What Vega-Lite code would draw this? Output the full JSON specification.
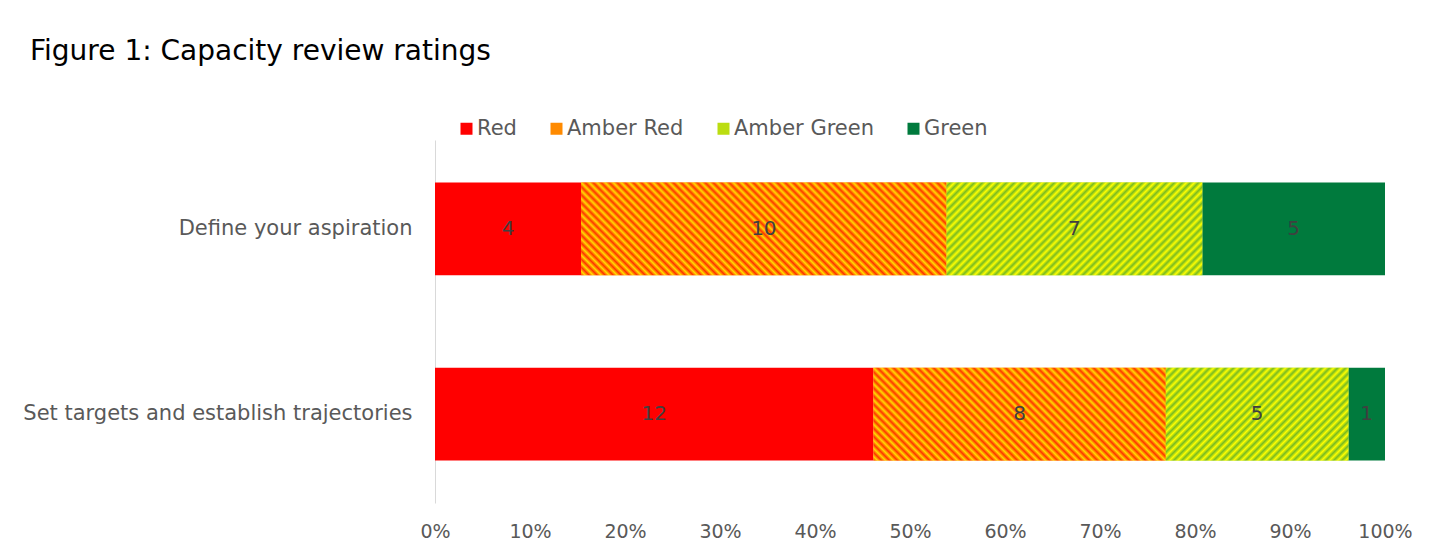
{
  "$schema": "https://vega.github.io/schema/vega-lite/v6.json",
  "width": 950,
  "height": 363,
  "autosize": {"type": "none"},
  "padding": {"left": 435, "top": 140, "right": 58, "bottom": 51},
  "background": "white",
  "title": {
    "text": "Figure 1: Capacity review ratings",
    "anchor": "start",
    "frame": "group",
    "dx": -405,
    "offset": 52,
    "fontSize": 28,
    "fontWeight": "normal",
    "color": "#000000",
    "font": "DejaVu Sans"
  },
  "config": {"view": {"stroke": null}, "font": "DejaVu Sans"},
  "data": {
    "values": [
      {"task": "Define your aspiration", "rating": "Red", "rank": 1, "count": 4},
      {"task": "Define your aspiration", "rating": "Amber Red", "rank": 2, "count": 10},
      {"task": "Define your aspiration", "rating": "Amber Green", "rank": 3, "count": 7},
      {"task": "Define your aspiration", "rating": "Green", "rank": 4, "count": 5},
      {"task": "Set targets and establish trajectories", "rating": "Red", "rank": 1, "count": 12},
      {"task": "Set targets and establish trajectories", "rating": "Amber Red", "rank": 2, "count": 8},
      {"task": "Set targets and establish trajectories", "rating": "Amber Green", "rank": 3, "count": 5},
      {"task": "Set targets and establish trajectories", "rating": "Green", "rank": 4, "count": 1}
    ]
  },
  "transform": [
    {"stack": "count", "groupby": ["task"], "sort": [{"field": "rank", "order": "ascending"}], "offset": "normalize", "as": ["x0", "x1"]}
  ],
  "encoding": {
    "y": {
      "field": "task",
      "type": "nominal",
      "sort": ["Define your aspiration", "Set targets and establish trajectories"],
      "scale": {"paddingInner": 0.5, "paddingOuter": 0.23},
      "axis": {"title": null, "ticks": false, "labelPadding": 23, "labelFontSize": 21, "labelColor": "#595959", "domainColor": "#D9D9D9", "labelLimit": 600}
    }
  },
  "layer": [
    {
      "mark": {"type": "bar"},
      "encoding": {
        "x": {
          "field": "x0",
          "type": "quantitative",
          "scale": {"domain": [0, 1]},
          "axis": {"title": null, "format": "%", "values": [0, 0.1, 0.2, 0.3, 0.4, 0.5, 0.6, 0.7, 0.8, 0.9, 1], "domain": false, "ticks": false, "grid": false, "labelFlush": false, "labelPadding": 19, "labelFontSize": 19, "labelColor": "#595959"}
        },
        "x2": {"field": "x1"},
        "color": {
          "field": "rating",
          "type": "nominal",
          "scale": {
            "domain": ["Red", "Amber Red", "Amber Green", "Green"],
            "range": ["#FF0000", "#FF8A00", "#BBDD11", "#007A3D"]
          },
          "legend": {
            "title": null, "orient": "none", "legendX": 21, "legendY": -22, "direction": "horizontal",
            "symbolType": "square", "symbolSize": 144, "symbolStrokeWidth": 0,
            "labelFontSize": 21, "labelColor": "#595959", "columnPadding": 29, "labelOffset": 0
          }
        }
      }
    },
    {
      "transform": [{"filter": "datum.task == 'Define your aspiration' && datum.rating == 'Amber Red'"}],
      "mark": {"type": "bar", "color": {"gradient": "linear", "x1": 0, "y1": 1, "x2": 1.2869, "y2": 0.676, "stops": [
        {"offset": 0, "color": "#f30"}, {"offset": 0.008, "color": "#fd0"}, {"offset": 0.016, "color": "#f30"}, {"offset": 0.024, "color": "#fd0"},
        {"offset": 0.032, "color": "#f30"}, {"offset": 0.04, "color": "#fd0"}, {"offset": 0.048, "color": "#f30"}, {"offset": 0.056, "color": "#fd0"},
        {"offset": 0.064, "color": "#f30"}, {"offset": 0.072, "color": "#fd0"}, {"offset": 0.08, "color": "#f30"}, {"offset": 0.088, "color": "#fd0"},
        {"offset": 0.096, "color": "#f30"}, {"offset": 0.104, "color": "#fd0"}, {"offset": 0.112, "color": "#f30"}, {"offset": 0.12, "color": "#fd0"},
        {"offset": 0.128, "color": "#f30"}, {"offset": 0.136, "color": "#fd0"}, {"offset": 0.144, "color": "#f30"}, {"offset": 0.152, "color": "#fd0"},
        {"offset": 0.16, "color": "#f30"}, {"offset": 0.168, "color": "#fd0"}, {"offset": 0.176, "color": "#f30"}, {"offset": 0.184, "color": "#fd0"},
        {"offset": 0.192, "color": "#f30"}, {"offset": 0.2, "color": "#fd0"}, {"offset": 0.208, "color": "#f30"}, {"offset": 0.216, "color": "#fd0"},
        {"offset": 0.224, "color": "#f30"}, {"offset": 0.232, "color": "#fd0"}, {"offset": 0.24, "color": "#f30"}, {"offset": 0.248, "color": "#fd0"},
        {"offset": 0.256, "color": "#f30"}, {"offset": 0.264, "color": "#fd0"}, {"offset": 0.272, "color": "#f30"}, {"offset": 0.28, "color": "#fd0"},
        {"offset": 0.288, "color": "#f30"}, {"offset": 0.296, "color": "#fd0"}, {"offset": 0.304, "color": "#f30"}, {"offset": 0.312, "color": "#fd0"},
        {"offset": 0.32, "color": "#f30"}, {"offset": 0.328, "color": "#fd0"}, {"offset": 0.336, "color": "#f30"}, {"offset": 0.344, "color": "#fd0"},
        {"offset": 0.352, "color": "#f30"}, {"offset": 0.36, "color": "#fd0"}, {"offset": 0.368, "color": "#f30"}, {"offset": 0.376, "color": "#fd0"},
        {"offset": 0.384, "color": "#f30"}, {"offset": 0.392, "color": "#fd0"}, {"offset": 0.4, "color": "#f30"}, {"offset": 0.408, "color": "#fd0"},
        {"offset": 0.416, "color": "#f30"}, {"offset": 0.424, "color": "#fd0"}, {"offset": 0.432, "color": "#f30"}, {"offset": 0.44, "color": "#fd0"},
        {"offset": 0.448, "color": "#f30"}, {"offset": 0.456, "color": "#fd0"}, {"offset": 0.464, "color": "#f30"}, {"offset": 0.472, "color": "#fd0"},
        {"offset": 0.48, "color": "#f30"}, {"offset": 0.488, "color": "#fd0"}, {"offset": 0.496, "color": "#f30"}, {"offset": 0.504, "color": "#fd0"},
        {"offset": 0.512, "color": "#f30"}, {"offset": 0.52, "color": "#fd0"}, {"offset": 0.528, "color": "#f30"}, {"offset": 0.536, "color": "#fd0"},
        {"offset": 0.544, "color": "#f30"}, {"offset": 0.552, "color": "#fd0"}, {"offset": 0.56, "color": "#f30"}, {"offset": 0.568, "color": "#fd0"},
        {"offset": 0.576, "color": "#f30"}, {"offset": 0.584, "color": "#fd0"}, {"offset": 0.592, "color": "#f30"}, {"offset": 0.6, "color": "#fd0"},
        {"offset": 0.608, "color": "#f30"}, {"offset": 0.616, "color": "#fd0"}, {"offset": 0.624, "color": "#f30"}, {"offset": 0.632, "color": "#fd0"},
        {"offset": 0.64, "color": "#f30"}, {"offset": 0.648, "color": "#fd0"}, {"offset": 0.656, "color": "#f30"}, {"offset": 0.664, "color": "#fd0"},
        {"offset": 0.672, "color": "#f30"}, {"offset": 0.68, "color": "#fd0"}, {"offset": 0.688, "color": "#f30"}, {"offset": 0.696, "color": "#fd0"},
        {"offset": 0.704, "color": "#f30"}, {"offset": 0.712, "color": "#fd0"}, {"offset": 0.72, "color": "#f30"}, {"offset": 0.728, "color": "#fd0"},
        {"offset": 0.736, "color": "#f30"}, {"offset": 0.744, "color": "#fd0"}, {"offset": 0.752, "color": "#f30"}, {"offset": 0.76, "color": "#fd0"},
        {"offset": 0.768, "color": "#f30"}, {"offset": 0.776, "color": "#fd0"}, {"offset": 0.784, "color": "#f30"}, {"offset": 0.792, "color": "#fd0"},
        {"offset": 0.8, "color": "#f30"}, {"offset": 0.808, "color": "#fd0"}, {"offset": 0.816, "color": "#f30"}, {"offset": 0.824, "color": "#fd0"},
        {"offset": 0.832, "color": "#f30"}, {"offset": 0.84, "color": "#fd0"}, {"offset": 0.848, "color": "#f30"}, {"offset": 0.856, "color": "#fd0"},
        {"offset": 0.864, "color": "#f30"}, {"offset": 0.872, "color": "#fd0"}, {"offset": 0.88, "color": "#f30"}, {"offset": 0.888, "color": "#fd0"},
        {"offset": 0.896, "color": "#f30"}, {"offset": 0.904, "color": "#fd0"}, {"offset": 0.912, "color": "#f30"}, {"offset": 0.92, "color": "#fd0"}
      ]}},
      "encoding": {"x": {"field": "x0", "type": "quantitative"}, "x2": {"field": "x1"}}
    },
    {
      "transform": [{"filter": "datum.task == 'Define your aspiration' && datum.rating == 'Amber Green'"}],
      "mark": {"type": "bar", "color": {"gradient": "linear", "x1": 0, "y1": 0, "x2": 1.7309, "y2": 0.6226, "stops": [
        {"offset": 0, "color": "#ff0"}, {"offset": 0.008, "color": "#7b2"}, {"offset": 0.016, "color": "#ff0"}, {"offset": 0.024, "color": "#7b2"},
        {"offset": 0.032, "color": "#ff0"}, {"offset": 0.04, "color": "#7b2"}, {"offset": 0.048, "color": "#ff0"}, {"offset": 0.056, "color": "#7b2"},
        {"offset": 0.064, "color": "#ff0"}, {"offset": 0.072, "color": "#7b2"}, {"offset": 0.08, "color": "#ff0"}, {"offset": 0.088, "color": "#7b2"},
        {"offset": 0.096, "color": "#ff0"}, {"offset": 0.104, "color": "#7b2"}, {"offset": 0.112, "color": "#ff0"}, {"offset": 0.12, "color": "#7b2"},
        {"offset": 0.128, "color": "#ff0"}, {"offset": 0.136, "color": "#7b2"}, {"offset": 0.144, "color": "#ff0"}, {"offset": 0.152, "color": "#7b2"},
        {"offset": 0.16, "color": "#ff0"}, {"offset": 0.168, "color": "#7b2"}, {"offset": 0.176, "color": "#ff0"}, {"offset": 0.184, "color": "#7b2"},
        {"offset": 0.192, "color": "#ff0"}, {"offset": 0.2, "color": "#7b2"}, {"offset": 0.208, "color": "#ff0"}, {"offset": 0.216, "color": "#7b2"},
        {"offset": 0.224, "color": "#ff0"}, {"offset": 0.232, "color": "#7b2"}, {"offset": 0.24, "color": "#ff0"}, {"offset": 0.248, "color": "#7b2"},
        {"offset": 0.256, "color": "#ff0"}, {"offset": 0.264, "color": "#7b2"}, {"offset": 0.272, "color": "#ff0"}, {"offset": 0.28, "color": "#7b2"},
        {"offset": 0.288, "color": "#ff0"}, {"offset": 0.296, "color": "#7b2"}, {"offset": 0.304, "color": "#ff0"}, {"offset": 0.312, "color": "#7b2"},
        {"offset": 0.32, "color": "#ff0"}, {"offset": 0.328, "color": "#7b2"}, {"offset": 0.336, "color": "#ff0"}, {"offset": 0.344, "color": "#7b2"},
        {"offset": 0.352, "color": "#ff0"}, {"offset": 0.36, "color": "#7b2"}, {"offset": 0.368, "color": "#ff0"}, {"offset": 0.376, "color": "#7b2"},
        {"offset": 0.384, "color": "#ff0"}, {"offset": 0.392, "color": "#7b2"}, {"offset": 0.4, "color": "#ff0"}, {"offset": 0.408, "color": "#7b2"},
        {"offset": 0.416, "color": "#ff0"}, {"offset": 0.424, "color": "#7b2"}, {"offset": 0.432, "color": "#ff0"}, {"offset": 0.44, "color": "#7b2"},
        {"offset": 0.448, "color": "#ff0"}, {"offset": 0.456, "color": "#7b2"}, {"offset": 0.464, "color": "#ff0"}, {"offset": 0.472, "color": "#7b2"},
        {"offset": 0.48, "color": "#ff0"}, {"offset": 0.488, "color": "#7b2"}, {"offset": 0.496, "color": "#ff0"}, {"offset": 0.504, "color": "#7b2"},
        {"offset": 0.512, "color": "#ff0"}, {"offset": 0.52, "color": "#7b2"}, {"offset": 0.528, "color": "#ff0"}, {"offset": 0.536, "color": "#7b2"},
        {"offset": 0.544, "color": "#ff0"}, {"offset": 0.552, "color": "#7b2"}, {"offset": 0.56, "color": "#ff0"}, {"offset": 0.568, "color": "#7b2"},
        {"offset": 0.576, "color": "#ff0"}, {"offset": 0.584, "color": "#7b2"}, {"offset": 0.592, "color": "#ff0"}, {"offset": 0.6, "color": "#7b2"},
        {"offset": 0.608, "color": "#ff0"}, {"offset": 0.616, "color": "#7b2"}, {"offset": 0.624, "color": "#ff0"}, {"offset": 0.632, "color": "#7b2"},
        {"offset": 0.64, "color": "#ff0"}, {"offset": 0.648, "color": "#7b2"}, {"offset": 0.656, "color": "#ff0"}, {"offset": 0.664, "color": "#7b2"},
        {"offset": 0.672, "color": "#ff0"}, {"offset": 0.68, "color": "#7b2"}, {"offset": 0.688, "color": "#ff0"}, {"offset": 0.696, "color": "#7b2"}
      ]}},
      "encoding": {"x": {"field": "x0", "type": "quantitative"}, "x2": {"field": "x1"}}
    },
    {
      "transform": [{"filter": "datum.task == 'Set targets and establish trajectories' && datum.rating == 'Amber Red'"}],
      "mark": {"type": "bar", "color": {"gradient": "linear", "x1": 0, "y1": 1, "x2": 1.5564, "y2": 0.5102, "stops": [
        {"offset": 0, "color": "#f30"}, {"offset": 0.008, "color": "#fd0"}, {"offset": 0.016, "color": "#f30"}, {"offset": 0.024, "color": "#fd0"},
        {"offset": 0.032, "color": "#f30"}, {"offset": 0.04, "color": "#fd0"}, {"offset": 0.048, "color": "#f30"}, {"offset": 0.056, "color": "#fd0"},
        {"offset": 0.064, "color": "#f30"}, {"offset": 0.072, "color": "#fd0"}, {"offset": 0.08, "color": "#f30"}, {"offset": 0.088, "color": "#fd0"},
        {"offset": 0.096, "color": "#f30"}, {"offset": 0.104, "color": "#fd0"}, {"offset": 0.112, "color": "#f30"}, {"offset": 0.12, "color": "#fd0"},
        {"offset": 0.128, "color": "#f30"}, {"offset": 0.136, "color": "#fd0"}, {"offset": 0.144, "color": "#f30"}, {"offset": 0.152, "color": "#fd0"},
        {"offset": 0.16, "color": "#f30"}, {"offset": 0.168, "color": "#fd0"}, {"offset": 0.176, "color": "#f30"}, {"offset": 0.184, "color": "#fd0"},
        {"offset": 0.192, "color": "#f30"}, {"offset": 0.2, "color": "#fd0"}, {"offset": 0.208, "color": "#f30"}, {"offset": 0.216, "color": "#fd0"},
        {"offset": 0.224, "color": "#f30"}, {"offset": 0.232, "color": "#fd0"}, {"offset": 0.24, "color": "#f30"}, {"offset": 0.248, "color": "#fd0"},
        {"offset": 0.256, "color": "#f30"}, {"offset": 0.264, "color": "#fd0"}, {"offset": 0.272, "color": "#f30"}, {"offset": 0.28, "color": "#fd0"},
        {"offset": 0.288, "color": "#f30"}, {"offset": 0.296, "color": "#fd0"}, {"offset": 0.304, "color": "#f30"}, {"offset": 0.312, "color": "#fd0"},
        {"offset": 0.32, "color": "#f30"}, {"offset": 0.328, "color": "#fd0"}, {"offset": 0.336, "color": "#f30"}, {"offset": 0.344, "color": "#fd0"},
        {"offset": 0.352, "color": "#f30"}, {"offset": 0.36, "color": "#fd0"}, {"offset": 0.368, "color": "#f30"}, {"offset": 0.376, "color": "#fd0"},
        {"offset": 0.384, "color": "#f30"}, {"offset": 0.392, "color": "#fd0"}, {"offset": 0.4, "color": "#f30"}, {"offset": 0.408, "color": "#fd0"},
        {"offset": 0.416, "color": "#f30"}, {"offset": 0.424, "color": "#fd0"}, {"offset": 0.432, "color": "#f30"}, {"offset": 0.44, "color": "#fd0"},
        {"offset": 0.448, "color": "#f30"}, {"offset": 0.456, "color": "#fd0"}, {"offset": 0.464, "color": "#f30"}, {"offset": 0.472, "color": "#fd0"},
        {"offset": 0.48, "color": "#f30"}, {"offset": 0.488, "color": "#fd0"}, {"offset": 0.496, "color": "#f30"}, {"offset": 0.504, "color": "#fd0"},
        {"offset": 0.512, "color": "#f30"}, {"offset": 0.52, "color": "#fd0"}, {"offset": 0.528, "color": "#f30"}, {"offset": 0.536, "color": "#fd0"},
        {"offset": 0.544, "color": "#f30"}, {"offset": 0.552, "color": "#fd0"}, {"offset": 0.56, "color": "#f30"}, {"offset": 0.568, "color": "#fd0"},
        {"offset": 0.576, "color": "#f30"}, {"offset": 0.584, "color": "#fd0"}, {"offset": 0.592, "color": "#f30"}, {"offset": 0.6, "color": "#fd0"},
        {"offset": 0.608, "color": "#f30"}, {"offset": 0.616, "color": "#fd0"}, {"offset": 0.624, "color": "#f30"}, {"offset": 0.632, "color": "#fd0"},
        {"offset": 0.64, "color": "#f30"}, {"offset": 0.648, "color": "#fd0"}, {"offset": 0.656, "color": "#f30"}, {"offset": 0.664, "color": "#fd0"},
        {"offset": 0.672, "color": "#f30"}, {"offset": 0.68, "color": "#fd0"}, {"offset": 0.688, "color": "#f30"}, {"offset": 0.696, "color": "#fd0"},
        {"offset": 0.704, "color": "#f30"}, {"offset": 0.712, "color": "#fd0"}, {"offset": 0.72, "color": "#f30"}, {"offset": 0.728, "color": "#fd0"},
        {"offset": 0.736, "color": "#f30"}, {"offset": 0.744, "color": "#fd0"}, {"offset": 0.752, "color": "#f30"}, {"offset": 0.76, "color": "#fd0"},
        {"offset": 0.768, "color": "#f30"}, {"offset": 0.776, "color": "#fd0"}
      ]}},
      "encoding": {"x": {"field": "x0", "type": "quantitative"}, "x2": {"field": "x1"}}
    },
    {
      "transform": [{"filter": "datum.task == 'Set targets and establish trajectories' && datum.rating == 'Amber Green'"}],
      "mark": {"type": "bar", "color": {"gradient": "linear", "x1": 0, "y1": 0, "x2": 2.1832, "y2": 1.0994, "stops": [
        {"offset": 0, "color": "#ff0"}, {"offset": 0.008, "color": "#7b2"}, {"offset": 0.016, "color": "#ff0"}, {"offset": 0.024, "color": "#7b2"},
        {"offset": 0.032, "color": "#ff0"}, {"offset": 0.04, "color": "#7b2"}, {"offset": 0.048, "color": "#ff0"}, {"offset": 0.056, "color": "#7b2"},
        {"offset": 0.064, "color": "#ff0"}, {"offset": 0.072, "color": "#7b2"}, {"offset": 0.08, "color": "#ff0"}, {"offset": 0.088, "color": "#7b2"},
        {"offset": 0.096, "color": "#ff0"}, {"offset": 0.104, "color": "#7b2"}, {"offset": 0.112, "color": "#ff0"}, {"offset": 0.12, "color": "#7b2"},
        {"offset": 0.128, "color": "#ff0"}, {"offset": 0.136, "color": "#7b2"}, {"offset": 0.144, "color": "#ff0"}, {"offset": 0.152, "color": "#7b2"},
        {"offset": 0.16, "color": "#ff0"}, {"offset": 0.168, "color": "#7b2"}, {"offset": 0.176, "color": "#ff0"}, {"offset": 0.184, "color": "#7b2"},
        {"offset": 0.192, "color": "#ff0"}, {"offset": 0.2, "color": "#7b2"}, {"offset": 0.208, "color": "#ff0"}, {"offset": 0.216, "color": "#7b2"},
        {"offset": 0.224, "color": "#ff0"}, {"offset": 0.232, "color": "#7b2"}, {"offset": 0.24, "color": "#ff0"}, {"offset": 0.248, "color": "#7b2"},
        {"offset": 0.256, "color": "#ff0"}, {"offset": 0.264, "color": "#7b2"}, {"offset": 0.272, "color": "#ff0"}, {"offset": 0.28, "color": "#7b2"},
        {"offset": 0.288, "color": "#ff0"}, {"offset": 0.296, "color": "#7b2"}, {"offset": 0.304, "color": "#ff0"}, {"offset": 0.312, "color": "#7b2"},
        {"offset": 0.32, "color": "#ff0"}, {"offset": 0.328, "color": "#7b2"}, {"offset": 0.336, "color": "#ff0"}, {"offset": 0.344, "color": "#7b2"},
        {"offset": 0.352, "color": "#ff0"}, {"offset": 0.36, "color": "#7b2"}, {"offset": 0.368, "color": "#ff0"}, {"offset": 0.376, "color": "#7b2"},
        {"offset": 0.384, "color": "#ff0"}, {"offset": 0.392, "color": "#7b2"}, {"offset": 0.4, "color": "#ff0"}, {"offset": 0.408, "color": "#7b2"},
        {"offset": 0.416, "color": "#ff0"}, {"offset": 0.424, "color": "#7b2"}, {"offset": 0.432, "color": "#ff0"}, {"offset": 0.44, "color": "#7b2"},
        {"offset": 0.448, "color": "#ff0"}, {"offset": 0.456, "color": "#7b2"}, {"offset": 0.464, "color": "#ff0"}, {"offset": 0.472, "color": "#7b2"},
        {"offset": 0.48, "color": "#ff0"}, {"offset": 0.488, "color": "#7b2"}, {"offset": 0.496, "color": "#ff0"}, {"offset": 0.504, "color": "#7b2"},
        {"offset": 0.512, "color": "#ff0"}, {"offset": 0.52, "color": "#7b2"}, {"offset": 0.528, "color": "#ff0"}, {"offset": 0.536, "color": "#7b2"},
        {"offset": 0.544, "color": "#ff0"}, {"offset": 0.552, "color": "#7b2"}
      ]}},
      "encoding": {"x": {"field": "x0", "type": "quantitative"}, "x2": {"field": "x1"}}
    },
    {
      "mark": {"type": "text", "fontSize": 20, "color": "#404040", "font": "DejaVu Sans"},
      "encoding": {
        "x": {"field": "count", "type": "quantitative", "stack": "normalize", "bandPosition": 0.5},
        "order": {"field": "rank"},
        "detail": {"field": "rating"},
        "text": {"field": "count", "type": "quantitative"}
      }
    }
  ]
}
